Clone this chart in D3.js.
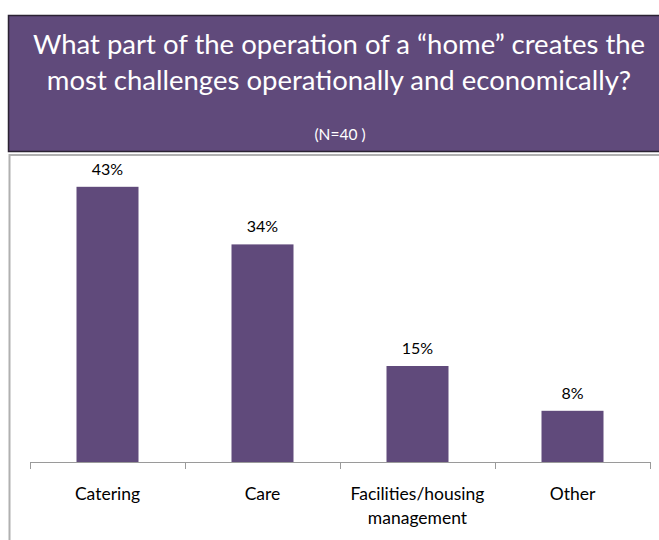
<!DOCTYPE html>
<html>
<head>
<meta charset="utf-8">
<script src="https://cdn.jsdelivr.net/npm/d3@7"></script>
<style>
  html, body { margin: 0; padding: 0; background: #fff; }
  svg { display: block; font-family: Lato, "Open Sans", sans-serif; }
</style>
</head>
<body>
<svg id="chart" width="659" height="540"></svg>
<script>
// Survey results
const categories = ["Catering", "Care", "Facilities/housing management", "Other"];
const categoryLines = [["Catering"], ["Care"], ["Facilities/housing", "management"], ["Other"]];
const percentages = [43, 34, 15, 8];
const titleLines = ["What part of the operation of a \u201Chome\u201D creates the",
                    "most challenges operationally and economically?"];
const subtitle = "(N=40 )";

const purple = "#604a7b";
const svg = d3.select("#chart");

// Header panel
svg.append("rect")
  .attr("x", 8.5).attr("y", 15.5)
  .attr("width", 680).attr("height", 136)
  .attr("fill", purple)
  .attr("stroke", "#2b2233").attr("stroke-width", 1.5);

svg.selectAll("text.title")
  .data(titleLines)
  .enter().append("text")
  .attr("class", "title")
  .attr("x", 339).attr("y", (d, i) => 54 + i * 36)
  .attr("text-anchor", "middle")
  .attr("fill", "#ffffff")
  .attr("font-size", 27.5)
  .text(d => d);

svg.append("text")
  .attr("x", 340).attr("y", 140)
  .attr("text-anchor", "middle")
  .attr("fill", "#ffffff")
  .attr("font-size", 15.5)
  .text(subtitle);

// Chart frame (top and left edges)
svg.append("path")
  .attr("d", "M9.5,540 V155 H659")
  .attr("fill", "none")
  .attr("stroke", "#b0b0b0").attr("stroke-width", 2);

// Scales
const x = d3.scaleBand()
  .domain(categories)
  .range([30, 650])
  .paddingInner(0.6)
  .paddingOuter(0.3);

const y = d3.scaleLinear()
  .domain([0, 50])
  .range([462, 142]);

// Bars
svg.selectAll("rect.bar")
  .data(percentages)
  .enter().append("rect")
  .attr("class", "bar")
  .attr("x", (d, i) => x(categories[i]))
  .attr("y", d => y(d))
  .attr("width", x.bandwidth())
  .attr("height", d => y(0) - y(d))
  .attr("fill", purple);

// Value labels
svg.selectAll("text.value")
  .data(percentages)
  .enter().append("text")
  .attr("class", "value")
  .attr("x", (d, i) => x(categories[i]) + x.bandwidth() / 2)
  .attr("y", d => y(d) - 12)
  .attr("text-anchor", "middle")
  .attr("font-size", 16)
  .attr("fill", "#000")
  .text(d => d + "%");

// Category axis
const axis = d3.axisBottom(x)
  .tickSize(7)
  .tickFormat("");
const gAxis = svg.append("g")
  .attr("transform", `translate(0,${y(0)})`)
  .call(axis);
gAxis.select(".domain").attr("stroke", "#9a9a9a").attr("d", "M30.5,0.5H650.5");
gAxis.selectAll(".tick").remove();
// Ticks sit on band boundaries
const boundaries = [30].concat(categories.map(c => x(c) + x.bandwidth() / 2 + x.step() / 2));
gAxis.selectAll("line.sep")
  .data(boundaries)
  .enter().append("line")
  .attr("class", "sep")
  .attr("x1", d => Math.round(d) + 0.5).attr("x2", d => Math.round(d) + 0.5)
  .attr("y1", 0).attr("y2", 7)
  .attr("stroke", "#9a9a9a");

// Category labels
const labels = svg.selectAll("text.cat")
  .data(categoryLines)
  .enter().append("text")
  .attr("class", "cat")
  .attr("x", (d, i) => x(categories[i]) + x.bandwidth() / 2)
  .attr("y", 500)
  .attr("text-anchor", "middle")
  .attr("font-size", 17.5)
  .attr("fill", "#000");
labels.selectAll("tspan")
  .data(d => d)
  .enter().append("tspan")
  .attr("x", function () { return d3.select(this.parentNode).attr("x"); })
  .attr("dy", (d, i) => i === 0 ? 0 : 24)
  .text(d => d);
</script>
</body>
</html>
